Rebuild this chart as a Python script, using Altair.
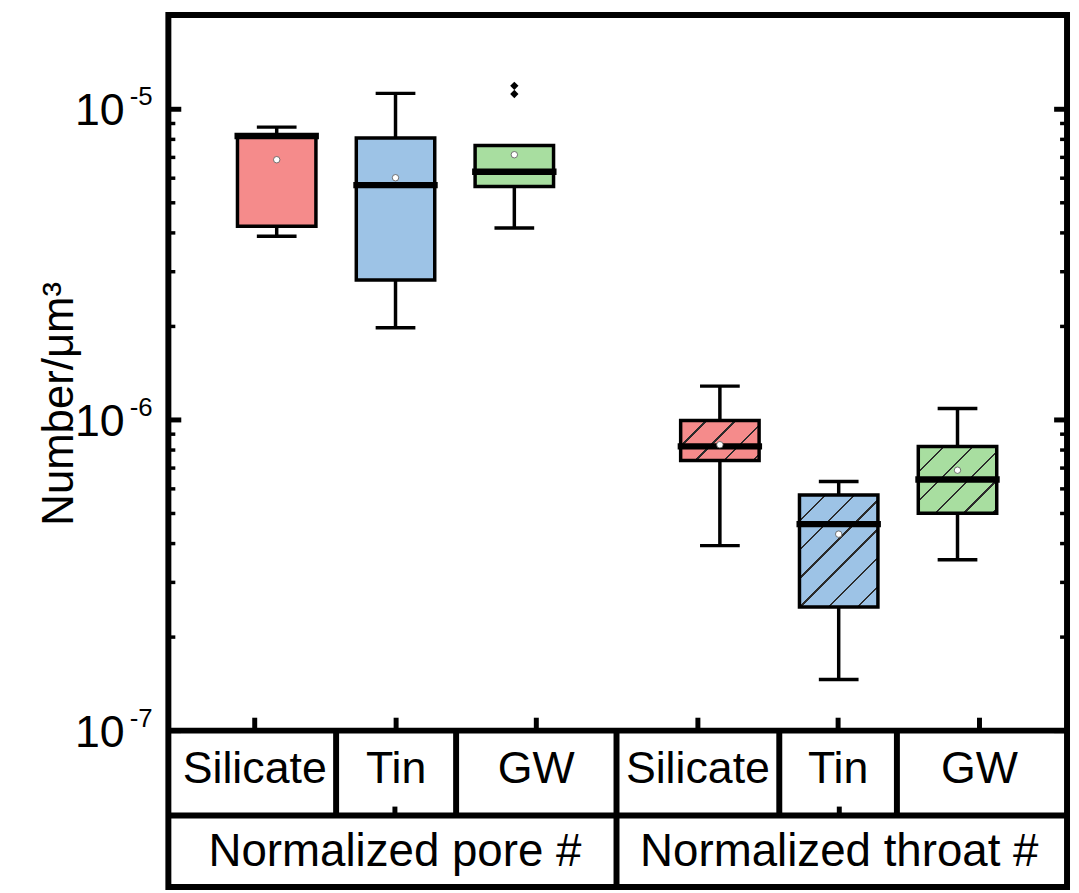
import altair as alt
import numpy as np
import pandas as pd

# ---------------- data ----------------
materials = ["Silicate", "Tin", "GW", "Silicate", "Tin", "GW"]
groups = ["Normalized pore #"] * 3 + ["Normalized throat #"] * 3
slot = [1, 2, 3, 4.73, 5.73, 6.73]
whisker_low = [3.90e-6, 1.98e-6, 4.15e-6, 3.94e-7, 1.46e-7, 3.55e-7]
q1 = [4.20e-6, 2.82e-6, 5.64e-6, 7.40e-7, 2.50e-7, 5.01e-7]
median = [8.20e-6, 5.70e-6, 6.29e-6, 8.22e-7, 4.62e-7, 6.43e-7]
q3 = [8.24e-6, 8.08e-6, 7.65e-6, 9.96e-7, 5.73e-7, 8.22e-7]
whisker_high = [8.76e-6, 1.125e-5, 7.65e-6, 1.285e-6, 6.34e-7, 1.089e-6]
mean = [6.88e-6, 6.02e-6, 7.14e-6, 8.32e-7, 4.29e-7, 6.89e-7]

outlier_slot = [3, 3]
outlier_value = [1.19e-5, 1.12e-5]

palette_domain = ["Silicate", "Tin", "GW"]
palette_range = ["#F58B8B", "#9DC3E6", "#A8DEA0"]

# axis / table layout
y_min, y_max = 3.14e-8, 2.01e-5
x_min, x_max = 0.13, 7.61
plot_w, plot_h = 905, 878

table_cols = [0.13, 1.50, 2.51, 3.86, 5.23, 6.22, 7.61]
group_cols = [0.13, 3.86, 7.61]
table_rows = [1e-7, 5.33e-8, 3.14e-8]
row1_labels = ["Silicate", "Tin", "GW", "Silicate", "Tin", "GW"]
row2_labels = ["Normalized pore #", "Normalized throat #"]

major_ticks = [1e-7, 1e-6, 1e-5]
tick_exp = ["-7", "-6", "-5"]
minor_ticks = [m * d for d in major_ticks for m in range(2, 10) if m * d < 1.9e-5]

FONT = "Liberation Sans"
LW = 3.5

# ---------------- tables ----------------
df = pd.DataFrame({
    "material": materials, "group": groups, "slot": slot,
    "wlow": whisker_low, "q1": q1, "median": median, "q3": q3,
    "whigh": whisker_high, "mean": mean,
})
out_df = pd.DataFrame({"slot": outlier_slot, "value": outlier_value})

cells1 = pd.DataFrame({
    "label": row1_labels,
    "xc": [(table_cols[i] + table_cols[i + 1]) / 2 for i in range(6)],
})
cells2 = pd.DataFrame({
    "label": row2_labels,
    "xc": [(group_cols[i] + group_cols[i + 1]) / 2 for i in range(2)],
})
hlines = pd.DataFrame({"y": table_rows[:2]})
vlines1 = pd.DataFrame({"x": [table_cols[i] for i in (1, 2, 4, 5)],
                        "y": table_rows[0], "y2": table_rows[1]})
vlines2 = pd.DataFrame({"x": [group_cols[1]], "y": table_rows[0], "y2": table_rows[2]})
grp_ticks = pd.DataFrame({"xc": cells2["xc"], "y": table_rows[1]})
cat_ticks = pd.DataFrame({"xc": cells1["xc"], "y": table_rows[0]})
maj_df = pd.DataFrame({"v": major_ticks, "exp": tick_exp})
min_df = pd.DataFrame({"v": minor_ticks})

xs = alt.Scale(domain=[x_min, x_max], nice=False, zero=False)
ys = alt.Scale(type="log", domain=[y_min, y_max], nice=False)
yaxis = alt.Axis(title="Number/μm³", labels=False, ticks=False, domain=False, grid=False,
                 titleFont=FONT, titleFontSize=44, titleFontWeight="normal",
                 titleColor="black", titleAngle=270, titleX=-97, titleY=391,
                 titleAlign="center", titleBaseline="alphabetic")


def X(f):
    return alt.X(f, type="quantitative", scale=xs, axis=None)


def Y(f):
    return alt.Y(f, type="quantitative", scale=ys, axis=yaxis)


base = alt.Chart(df)
layers = []

# whiskers
layers.append(base.mark_rule(color="black", strokeWidth=LW, opacity=1).encode(
    x=X("slot"), y=Y("wlow"), y2=alt.Y2("q1")))
layers.append(base.mark_rule(color="black", strokeWidth=LW, opacity=1).encode(
    x=X("slot"), y=Y("q3"), y2=alt.Y2("whigh")))
# caps
layers.append(base.mark_tick(orient="horizontal", size=40, thickness=LW, color="black",
                             opacity=1).encode(x=X("slot"), y=Y("wlow")))
layers.append(base.mark_tick(orient="horizontal", size=40, thickness=LW, color="black",
                             opacity=1).encode(x=X("slot"), y=Y("whigh"))
              .transform_filter("datum.whigh > datum.q3"))

# pore boxes (solid)
layers.append(base.mark_bar(size=79, stroke="black", strokeWidth=LW, opacity=1).encode(
    x=X("slot"), y=Y("q1"), y2=alt.Y2("q3"),
    fill=alt.Fill("material:N", scale=alt.Scale(domain=palette_domain, range=palette_range),
                  legend=None),
).transform_filter("datum.group == 'Normalized pore #'"))

# throat boxes (hatched via hard-stop gradients)
px_per_decade = plot_h / (np.log10(y_max) - np.log10(y_min))


def hatch(color, w, h, spacing=29.0, lw=2.4, phase=25.0, dark="#2b2b2b"):
    k = (w + h) / (w * w + h * h)
    total = w + h
    stops = [alt.GradientStop(offset=0, color=color)]
    c = phase
    while c < total:
        a = c / total
        b = min((c + lw) / total, 1.0)
        stops += [alt.GradientStop(offset=a, color=color), alt.GradientStop(offset=a, color=dark),
                  alt.GradientStop(offset=b, color=dark), alt.GradientStop(offset=b, color=color)]
        c += spacing
    stops.append(alt.GradientStop(offset=1, color=color))
    return alt.LinearGradient(gradient="linear", stops=stops, x1=0, y1=0, x2=k * w, y2=k * h)


for i in range(3, 6):
    w = 79.0
    h = (np.log10(q3[i]) - np.log10(q1[i])) * px_per_decade
    col = palette_range[palette_domain.index(materials[i])]
    layers.append(base.mark_bar(size=79, stroke="black", strokeWidth=LW, opacity=1,
                                fill=hatch(col, w, h)).encode(
        x=X("slot"), y=Y("q1"), y2=alt.Y2("q3"),
    ).transform_filter(f"datum.slot == {slot[i]}"))

# medians
layers.append(base.mark_tick(orient="horizontal", size=85, thickness=6.5, color="black",
                             opacity=1).encode(x=X("slot"), y=Y("median")))
# means
layers.append(base.mark_point(shape="circle", filled=True, size=42, fill="white",
                              stroke="#555555", strokeWidth=0.8, opacity=1).encode(
    x=X("slot"), y=Y("mean")))
# outliers
layers.append(alt.Chart(out_df).mark_point(shape="diamond", filled=True, size=70, color="black",
                                           opacity=1).encode(x=X("slot"), y=Y("value")))

# table lines
layers.append(alt.Chart(hlines).mark_rule(color="black", strokeWidth=6, opacity=1).encode(
    y=Y("y"), x=alt.value(0), x2=alt.value(plot_w)))
layers.append(alt.Chart(vlines1).mark_rule(color="black", strokeWidth=6, opacity=1).encode(
    x=X("x"), y=Y("y"), y2=alt.Y2("y2")))
layers.append(alt.Chart(vlines2).mark_rule(color="black", strokeWidth=6, opacity=1).encode(
    x=X("x"), y=Y("y"), y2=alt.Y2("y2")))

# table ticks
layers.append(alt.Chart(cat_ticks).mark_tick(orient="vertical", size=13, thickness=5,
                                             color="black", opacity=1, yOffset=-6.5).encode(
    x=X("xc"), y=Y("y")))
layers.append(alt.Chart(grp_ticks).mark_tick(orient="vertical", size=9, thickness=5,
                                             color="black", opacity=1, yOffset=-4.5).encode(
    x=X("xc"), y=Y("y")))

# table text
layers.append(alt.Chart(cells1).mark_text(font=FONT, fontSize=45, color="black", align="center",
                                          baseline="alphabetic", dy=10).encode(
    x=X("xc"), y=alt.Y("y:Q", scale=ys, axis=yaxis), text="label:N").transform_calculate(
    y=f"sqrt({table_rows[0]} * {table_rows[1]})"))
layers.append(alt.Chart(cells2).mark_text(font=FONT, fontSize=46, color="black", align="center",
                                          baseline="alphabetic", dy=15).encode(
    x=X("xc"), y=alt.Y("y:Q", scale=ys, axis=yaxis), text="label:N").transform_calculate(
    y=f"sqrt({table_rows[1]} * {table_rows[2]})"))

# y ticks (inward, both sides)
layers.append(alt.Chart(maj_df).mark_rule(color="black", strokeWidth=5, opacity=1).encode(
    y=Y("v"), x=alt.value(0), x2=alt.value(13)))
layers.append(alt.Chart(maj_df).mark_rule(color="black", strokeWidth=5, opacity=1).encode(
    y=Y("v"), x=alt.value(plot_w - 13), x2=alt.value(plot_w)))
layers.append(alt.Chart(min_df).mark_rule(color="black", strokeWidth=3.5, opacity=1).encode(
    y=Y("v"), x=alt.value(0), x2=alt.value(7)))
layers.append(alt.Chart(min_df).mark_rule(color="black", strokeWidth=3.5, opacity=1).encode(
    y=Y("v"), x=alt.value(plot_w - 7), x2=alt.value(plot_w)))

# y tick labels 10^n
layers.append(alt.Chart(maj_df).mark_text(font=FONT, fontSize=45, color="black", align="right",
                                          baseline="alphabetic", dy=16).encode(
    y=Y("v"), x=alt.value(-44), text=alt.value("10")))
layers.append(alt.Chart(maj_df).mark_text(font=FONT, fontSize=26, color="black", align="left",
                                          baseline="alphabetic", dy=-4).encode(
    y=Y("v"), x=alt.value(-39), text="exp:N"))

chart = alt.layer(*layers).properties(
    width=plot_w, height=plot_h,
    padding={"left": 161.5, "top": 4, "right": 4, "bottom": 3},
    autosize=alt.AutoSizeParams(type="none"),
    background="white",
).configure_view(stroke="black", strokeWidth=6)

chart.save("out.html", embed_options={"renderer": "svg", "actions": False})
